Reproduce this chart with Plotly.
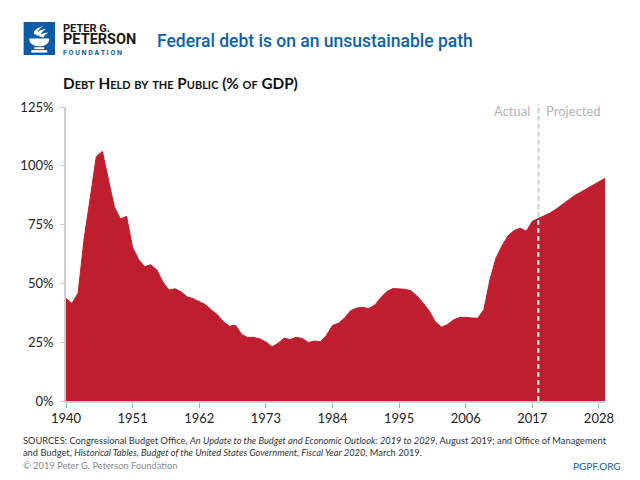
import plotly.graph_objects as go
import base64

# ---------------- data ----------------
start_year = 1940
debt_pct = [
    43.6, 41.5, 45.9, 69.2, 86.3, 103.9, 106.1, 93.9, 82.4, 77.4,   # 1940-1949
    78.5, 65.3, 60.1, 57.1, 57.9, 55.7, 50.6, 47.2, 47.7, 46.4,     # 1950-1959
    44.3, 43.5, 42.3, 41.0, 38.7, 36.7, 33.7, 31.8, 32.2, 28.3,     # 1960-1969
    27.0, 27.1, 26.4, 25.1, 23.1, 24.5, 26.7, 26.1, 27.1, 26.6,     # 1970-1979
    24.9, 25.5, 25.2, 27.9, 32.1, 33.1, 35.3, 38.4, 39.5, 39.8,     # 1980-1989
    39.3, 40.8, 44.0, 46.6, 47.8, 47.7, 47.5, 46.8, 44.5, 41.6,     # 1990-1999
    38.2, 33.6, 31.4, 32.5, 34.5, 35.5, 35.6, 35.3, 35.2, 38.9,     # 2000-2009
    51.6, 60.8, 66.0, 70.3, 72.5, 73.5, 72.2, 76.4, 77.6, 78.7,     # 2010-2019
    80.0, 81.7, 83.5, 85.5, 87.4, 88.8, 90.3, 91.7, 93.1, 94.7,     # 2020-2029
]
years = list(range(start_year, start_year + len(debt_pct)))
last_actual_year = 2018
x_tick_vals = [1940, 1951, 1962, 1973, 1984, 1995, 2006, 2017, 2028]
y_tick_vals = [0, 25, 50, 75, 100, 125]
y_tick_text = ["0%", "25%", "50%", "75%", "100%", "125%"]

# ---------------- layout geometry ----------------
OFF = 8                      # page body margin offset
W, H = 640 - OFF, 480 - OFF
L = 61 - OFF                 # plot left at screen x=61
R = W - (605 - OFF)          # plot right at screen x=605
T = 107 - OFF                # plot top at screen y=107
B = H - (401 - OFF)          # plot bottom at screen y=401
PW, PH = W - L - R, H - T - B
def px(x):                   # screen x -> paper
    return (x - OFF - L) / PW
def py(y):                   # screen y -> paper
    return (H - B - (y - OFF)) / PH

RED = "#be1e2d"
BLUE = "#0b62ad"
FONT = "Lato"

fig = go.Figure()
fig.add_trace(go.Scatter(
    x=years, y=debt_pct, mode="lines", fill="tozeroy",
    line=dict(color=RED, width=1), fillcolor=RED, hoverinfo="x+y",
    showlegend=False,
))

actual_val = debt_pct[years.index(last_actual_year)]

shapes = [
    dict(type="line", xref="x", yref="paper", x0=last_actual_year, x1=last_actual_year,
         y0=0, y1=py(104), line=dict(color="#c6c6c6", width=1.6, dash="5px,3px"), layer="above"),
    dict(type="line", xref="x", yref="y", x0=last_actual_year, x1=last_actual_year,
         y0=0, y1=actual_val, line=dict(color="#ffffff", width=1.6, dash="5px,3px"), layer="above"),
]

svg = """<svg xmlns='http://www.w3.org/2000/svg' width='32' height='34' viewBox='0 0 32 34'>
<rect width='32' height='34' fill='#0d5ba6'/>
<path d='M11 13 C 9 9, 14 6, 20 4 C 16 7, 14 9, 15 12 Z' fill='white'/>
<path d='M13 14 C 12 11, 17 8, 23 7 C 19 10, 17 12, 18 14 Z' fill='white'/>
<path d='M16 15 C 16 13, 20 11, 25 11 C 22 13, 20 14, 21 16 Z' fill='white'/>
<path d='M6 17 L26 17 L26 19 C 25 23, 21 25, 16 25 C 11 25, 7 23, 6 19 Z' fill='white'/>
<rect x='11' y='26' width='10' height='2' fill='white'/>
<rect x='8' y='29' width='16' height='2.5' fill='white'/>
</svg>"""
svg_uri = "data:image/svg+xml;base64," + base64.b64encode(svg.encode()).decode()

images = [dict(source=svg_uri, xref="paper", yref="paper", x=px(18), y=py(22),
               sizex=px(50) - px(18), sizey=py(22) - py(55),
               xanchor="left", yanchor="top", sizing="stretch", layer="above")]

def ann(text, x, y, size, color="#222", xanchor="left", yanchor="middle", family=FONT, **kw):
    return dict(text=text, xref="paper", yref="paper", x=px(x), y=py(y),
                xanchor=xanchor, yanchor=yanchor, showarrow=False, align="left",
                font=dict(size=size, color=color, family=family, **kw))

logo_text = ("<b><span style='font-size:11px'>PETER G.</span></b><br>"
             "<b><span style='font-size:14.5px'>PETERSON</span></b><br>"
             "<b><span style='font-size:7px;fill:%s'>F O U N D A T I O N</span></b>" % BLUE)

annotations = [
    ann(logo_text, 55.5, 39.5, 9, color="#1a1a1a", family="Roboto"),
    ann("Federal debt is on an unsustainable path", 151, 41, 17.5, color=BLUE,
        family="Roboto", weight=500),
    ann("<b>Debt Held by the Public (% of GDP)</b>", 56, 83.5, 15.3, color="#111",
        variant="small-caps"),
    ann("Actual", 531, 111.5, 13, color="#b4b4b4", xanchor="right"),
    ann("Projected", 543, 111.5, 13, color="#b4b4b4"),
    ann("SOURCES: Congressional Budget Office, <i>An Update to the Budget and Economic Outlook: 2019 to 2029</i>, "
        "August 2019; and Office of Management", 16, 440.5, 9.3, color="#333"),
    ann("and Budget, <i>Historical Tables, Budget of the United States Government, Fiscal Year 2020</i>, March 2019.",
        16, 452.5, 9.3, color="#333"),
    ann("© 2019 Peter G. Peterson Foundation", 16, 465.5, 9.3, color="#8a8a8a"),
    ann("PGPF.ORG", 623, 465.5, 10, color=BLUE, xanchor="right"),
]

fig.update_layout(
    width=W, height=H,
    margin=dict(l=L, r=R, t=T, b=B, pad=0),
    paper_bgcolor="white", plot_bgcolor="white",
    font=dict(family=FONT, size=13, color="#333"),
    xaxis=dict(range=[start_year, years[-1]], tickvals=x_tick_vals,
               showgrid=False, zeroline=False, showline=True, linecolor="#c8d6dc", linewidth=1.5,
               ticks="outside", ticklen=5, tickcolor="#b0b0b0", tickwidth=1,
               tickfont=dict(size=13, color="#222")),
    yaxis=dict(range=[0, 125], tickvals=y_tick_vals, ticktext=y_tick_text,
               showgrid=False, zeroline=False, showline=True, linecolor="#cccccc", linewidth=2,
               ticks="outside", ticklen=4, tickcolor="#cccccc", tickwidth=1,
               tickfont=dict(size=13, color="#222"), ticklabelstandoff=4),
    shapes=shapes, images=images, annotations=annotations,
)

fig.write_html("out.html")
